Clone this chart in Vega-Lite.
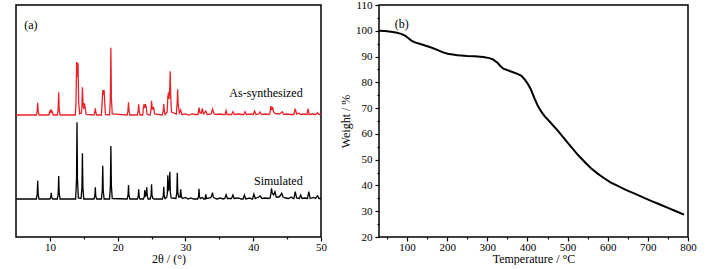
{
"$schema": "https://vega.github.io/schema/vega-lite/v6.json",
"padding": {"left": 12, "top": -2, "right": 0, "bottom": 0},
"background": "white",
"config": {
  "font": "Liberation Serif",
  "view": {"stroke": "black", "strokeWidth": 1.5},
  "text": {"font": "Liberation Serif"},
  "axis": {"domain": false, "grid": false, "tickColor": "black", "tickWidth": 1.2, "labelColor": "black", "titleColor": "black", "labelFont": "Liberation Serif", "titleFont": "Liberation Serif", "labelFontSize": 11, "titleFontSize": 12, "titleFontWeight": "normal", "labelFlush": false, "tickCount": 100, "format": "d"}
},
"datasets": {
  "xrd": [
    {"s":"S","x":5.0,"y":38},
    {"s":"S","x":8.0,"y":38},{"s":"S","x":8.13,"y":42.6},{"s":"S","x":8.2,"y":56.3},{"s":"S","x":8.27,"y":42.6},{"s":"S","x":8.4,"y":38},
    {"s":"S","x":10.0,"y":38},{"s":"S","x":10.13,"y":39.6},{"s":"S","x":10.2,"y":44.3},{"s":"S","x":10.27,"y":39.6},{"s":"S","x":10.4,"y":38},
    {"s":"S","x":11.1,"y":38},{"s":"S","x":11.23,"y":43.8},{"s":"S","x":11.3,"y":61},{"s":"S","x":11.37,"y":43.8},{"s":"S","x":11.5,"y":38},
    {"s":"S","x":13.8,"y":38},{"s":"S","x":13.93,"y":57.2},{"s":"S","x":14.0,"y":114.7},{"s":"S","x":14.07,"y":57.2},{"s":"S","x":14.2,"y":39},
    {"s":"S","x":14.6,"y":38.5},{"s":"S","x":14.73,"y":49.4},{"s":"S","x":14.8,"y":83.7},{"s":"S","x":14.87,"y":49.4},{"s":"S","x":15.0,"y":38},
    {"s":"S","x":16.5,"y":38},{"s":"S","x":16.63,"y":40.9},{"s":"S","x":16.7,"y":49.7},{"s":"S","x":16.77,"y":40.9},{"s":"S","x":16.9,"y":38},
    {"s":"S","x":17.6,"y":38},{"s":"S","x":17.73,"y":46.3},{"s":"S","x":17.8,"y":71.3},{"s":"S","x":17.87,"y":46.3},{"s":"S","x":18.0,"y":38},
    {"s":"S","x":18.8,"y":38},{"s":"S","x":18.93,"y":51.3},{"s":"S","x":19.0,"y":91},{"s":"S","x":19.07,"y":51.3},{"s":"S","x":19.2,"y":38.5},
    {"s":"S","x":21.4,"y":38},{"s":"S","x":21.53,"y":41.5},{"s":"S","x":21.6,"y":52},{"s":"S","x":21.67,"y":41.5},{"s":"S","x":21.8,"y":38},
    {"s":"S","x":22.9,"y":38},{"s":"S","x":23.03,"y":40.4},{"s":"S","x":23.1,"y":47.7},{"s":"S","x":23.17,"y":40.4},{"s":"S","x":23.3,"y":38},
    {"s":"S","x":23.8,"y":38},{"s":"S","x":23.93,"y":40.3},{"s":"S","x":24.0,"y":47},{"s":"S","x":24.1,"y":41},{"s":"S","x":24.2,"y":42},{"s":"S","x":24.3,"y":49.7},{"s":"S","x":24.37,"y":41},{"s":"S","x":24.5,"y":38},
    {"s":"S","x":24.8,"y":38},{"s":"S","x":24.93,"y":41.7},{"s":"S","x":25.0,"y":52.7},{"s":"S","x":25.07,"y":41.7},{"s":"S","x":25.2,"y":38.5},{"s":"S","x":25.4,"y":38},
    {"s":"S","x":26.6,"y":38},{"s":"S","x":26.73,"y":41},{"s":"S","x":26.8,"y":50.3},{"s":"S","x":26.87,"y":41},{"s":"S","x":27.0,"y":38.5},
    {"s":"S","x":27.25,"y":40},{"s":"S","x":27.33,"y":44},{"s":"S","x":27.4,"y":61.7},{"s":"S","x":27.5,"y":47},{"s":"S","x":27.6,"y":48},{"s":"S","x":27.7,"y":65.3},{"s":"S","x":27.77,"y":45},{"s":"S","x":27.9,"y":39},
    {"s":"S","x":28.6,"y":38.5},{"s":"S","x":28.73,"y":44.6},{"s":"S","x":28.8,"y":64.3},{"s":"S","x":28.87,"y":44.6},{"s":"S","x":29.0,"y":40},
    {"s":"S","x":29.2,"y":40},{"s":"S","x":29.3,"y":47.7},{"s":"S","x":29.4,"y":40},{"s":"S","x":29.6,"y":38.5},
    {"s":"S","x":30.0,"y":39.5},{"s":"S","x":30.4,"y":38},{"s":"S","x":30.8,"y":39},{"s":"S","x":31.2,"y":38},
    {"s":"S","x":31.8,"y":38},{"s":"S","x":31.93,"y":40.5},{"s":"S","x":32.0,"y":48.3},{"s":"S","x":32.07,"y":40.5},{"s":"S","x":32.2,"y":38.5},
    {"s":"S","x":32.5,"y":39.5},{"s":"S","x":32.7,"y":38},{"s":"S","x":32.9,"y":38},{"s":"S","x":33.0,"y":42.7},{"s":"S","x":33.1,"y":38.5},
    {"s":"S","x":33.6,"y":39},{"s":"S","x":33.8,"y":40},{"s":"S","x":34.0,"y":44.3},{"s":"S","x":34.1,"y":40},{"s":"S","x":34.3,"y":39},{"s":"S","x":34.6,"y":38},
    {"s":"S","x":35.2,"y":39},{"s":"S","x":35.5,"y":38},{"s":"S","x":35.8,"y":38.5},{"s":"S","x":36.0,"y":42.3},{"s":"S","x":36.2,"y":38.5},
    {"s":"S","x":36.8,"y":38.5},{"s":"S","x":37.0,"y":42},{"s":"S","x":37.2,"y":38.5},{"s":"S","x":37.8,"y":39},{"s":"S","x":38.2,"y":38},
    {"s":"S","x":38.5,"y":38},{"s":"S","x":38.7,"y":42},{"s":"S","x":38.9,"y":38},{"s":"S","x":39.5,"y":39},{"s":"S","x":39.8,"y":38},
    {"s":"S","x":39.9,"y":38},{"s":"S","x":40.1,"y":43},{"s":"S","x":40.3,"y":38.5},{"s":"S","x":40.8,"y":40},{"s":"S","x":41.0,"y":41},{"s":"S","x":41.3,"y":38.5},
    {"s":"S","x":41.8,"y":39},{"s":"S","x":42.2,"y":38.5},{"s":"S","x":42.5,"y":39},{"s":"S","x":42.6,"y":43},{"s":"S","x":42.7,"y":48.7},{"s":"S","x":42.8,"y":44},{"s":"S","x":43.0,"y":42},{"s":"S","x":43.2,"y":45.3},{"s":"S","x":43.4,"y":40},
    {"s":"S","x":43.8,"y":40},{"s":"S","x":44.0,"y":41.5},{"s":"S","x":44.2,"y":43.7},{"s":"S","x":44.4,"y":40},{"s":"S","x":44.8,"y":39},
    {"s":"S","x":45.2,"y":38.5},{"s":"S","x":45.6,"y":40},{"s":"S","x":45.9,"y":38.5},{"s":"S","x":46.0,"y":38.5},{"s":"S","x":46.2,"y":45.3},{"s":"S","x":46.4,"y":39},
    {"s":"S","x":46.8,"y":38.5},{"s":"S","x":47.0,"y":42},{"s":"S","x":47.2,"y":38.5},{"s":"S","x":47.6,"y":39},{"s":"S","x":48.0,"y":38.5},{"s":"S","x":48.2,"y":45.3},{"s":"S","x":48.4,"y":38.5},
    {"s":"S","x":48.9,"y":39.5},{"s":"S","x":49.2,"y":38.5},{"s":"S","x":49.5,"y":41.3},{"s":"S","x":49.7,"y":38.5},{"s":"S","x":50.0,"y":38.5},

    {"s":"A","x":5.0,"y":122},
    {"s":"A","x":8.0,"y":122},{"s":"A","x":8.12,"y":125.5},{"s":"A","x":8.2,"y":134.3},{"s":"A","x":8.28,"y":125.5},{"s":"A","x":8.4,"y":122},
    {"s":"A","x":9.85,"y":122},{"s":"A","x":9.95,"y":125},{"s":"A","x":10.05,"y":126.5},{"s":"A","x":10.15,"y":124.5},{"s":"A","x":10.25,"y":126.5},{"s":"A","x":10.35,"y":125},{"s":"A","x":10.5,"y":122},
    {"s":"A","x":11.1,"y":122},{"s":"A","x":11.22,"y":127.5},{"s":"A","x":11.3,"y":144.7},{"s":"A","x":11.38,"y":127.5},{"s":"A","x":11.5,"y":122},
    {"s":"A","x":13.75,"y":122},{"s":"A","x":13.85,"y":134},{"s":"A","x":13.95,"y":175},{"s":"A","x":14.05,"y":160},{"s":"A","x":14.15,"y":174},{"s":"A","x":14.25,"y":134},{"s":"A","x":14.4,"y":123},
    {"s":"A","x":14.65,"y":124},{"s":"A","x":14.73,"y":131},{"s":"A","x":14.8,"y":149.7},{"s":"A","x":14.88,"y":135},{"s":"A","x":14.98,"y":128},{"s":"A","x":15.1,"y":133.7},{"s":"A","x":15.2,"y":130},{"s":"A","x":15.35,"y":122.5},
    {"s":"A","x":16.5,"y":122},{"s":"A","x":16.62,"y":124.5},{"s":"A","x":16.7,"y":128.7},{"s":"A","x":16.78,"y":124.5},{"s":"A","x":16.9,"y":122},
    {"s":"A","x":17.6,"y":122},{"s":"A","x":17.7,"y":133},{"s":"A","x":17.8,"y":147},{"s":"A","x":17.9,"y":142},{"s":"A","x":18.0,"y":147},{"s":"A","x":18.1,"y":133},{"s":"A","x":18.2,"y":122.5},
    {"s":"A","x":18.8,"y":122},{"s":"A","x":18.92,"y":138},{"s":"A","x":19.0,"y":189.3},{"s":"A","x":19.08,"y":138},{"s":"A","x":19.2,"y":123},
    {"s":"A","x":21.4,"y":122},{"s":"A","x":21.52,"y":126},{"s":"A","x":21.6,"y":134.7},{"s":"A","x":21.68,"y":126},{"s":"A","x":21.8,"y":122},
    {"s":"A","x":22.9,"y":122},{"s":"A","x":23.02,"y":125.5},{"s":"A","x":23.1,"y":132.7},{"s":"A","x":23.18,"y":125.5},{"s":"A","x":23.3,"y":122},
    {"s":"A","x":23.7,"y":122},{"s":"A","x":23.8,"y":130},{"s":"A","x":23.9,"y":132.7},{"s":"A","x":24.0,"y":129},{"s":"A","x":24.1,"y":133},{"s":"A","x":24.2,"y":130},{"s":"A","x":24.35,"y":122.5},
    {"s":"A","x":24.8,"y":122},{"s":"A","x":24.92,"y":127},{"s":"A","x":25.0,"y":136.3},{"s":"A","x":25.1,"y":128},{"s":"A","x":25.2,"y":128},{"s":"A","x":25.3,"y":130},{"s":"A","x":25.45,"y":123},
    {"s":"A","x":26.6,"y":122},{"s":"A","x":26.72,"y":126},{"s":"A","x":26.8,"y":133},{"s":"A","x":26.88,"y":126},{"s":"A","x":27.0,"y":122.5},
    {"s":"A","x":27.3,"y":125},{"s":"A","x":27.4,"y":140},{"s":"A","x":27.5,"y":144.7},{"s":"A","x":27.6,"y":138},{"s":"A","x":27.7,"y":152},{"s":"A","x":27.75,"y":165.7},{"s":"A","x":27.83,"y":140},{"s":"A","x":27.95,"y":125},
    {"s":"A","x":28.65,"y":123},{"s":"A","x":28.77,"y":133},{"s":"A","x":28.85,"y":147.7},{"s":"A","x":28.93,"y":133},{"s":"A","x":29.1,"y":124},{"s":"A","x":29.3,"y":127},{"s":"A","x":29.45,"y":122.5},
    {"s":"A","x":30.0,"y":123},{"s":"A","x":30.5,"y":122},{"s":"A","x":31.0,"y":123},{"s":"A","x":31.5,"y":122.5},
    {"s":"A","x":31.85,"y":122.5},{"s":"A","x":32.0,"y":129.3},{"s":"A","x":32.15,"y":124},{"s":"A","x":32.35,"y":124},{"s":"A","x":32.5,"y":128.7},{"s":"A","x":32.65,"y":123},
    {"s":"A","x":33.0,"y":126},{"s":"A","x":33.2,"y":122.5},{"s":"A","x":33.8,"y":123},{"s":"A","x":34.0,"y":128},{"s":"A","x":34.2,"y":123.5},{"s":"A","x":34.5,"y":122.5},
    {"s":"A","x":35.0,"y":123},{"s":"A","x":35.5,"y":122.5},{"s":"A","x":35.85,"y":122.5},{"s":"A","x":36.0,"y":126.3},{"s":"A","x":36.15,"y":122.5},
    {"s":"A","x":36.8,"y":122.5},{"s":"A","x":37.0,"y":125.3},{"s":"A","x":37.2,"y":122.5},{"s":"A","x":37.8,"y":123},{"s":"A","x":38.3,"y":122.5},
    {"s":"A","x":38.6,"y":122.5},{"s":"A","x":38.8,"y":125.3},{"s":"A","x":39.0,"y":122.5},{"s":"A","x":39.6,"y":123},{"s":"A","x":40.0,"y":122.5},{"s":"A","x":40.2,"y":126},{"s":"A","x":40.4,"y":122.5},
    {"s":"A","x":40.8,"y":123},{"s":"A","x":41.0,"y":125},{"s":"A","x":41.2,"y":122.5},{"s":"A","x":41.8,"y":123},{"s":"A","x":42.3,"y":122.5},
    {"s":"A","x":42.45,"y":123},{"s":"A","x":42.6,"y":131},{"s":"A","x":42.72,"y":127},{"s":"A","x":42.85,"y":130},{"s":"A","x":43.0,"y":125},{"s":"A","x":43.2,"y":123.5},
    {"s":"A","x":43.7,"y":123},{"s":"A","x":44.0,"y":123.5},{"s":"A","x":44.3,"y":125.3},{"s":"A","x":44.5,"y":122.5},
    {"s":"A","x":45.0,"y":123},{"s":"A","x":45.5,"y":122.5},{"s":"A","x":46.0,"y":122.5},{"s":"A","x":46.2,"y":128.3},{"s":"A","x":46.4,"y":123},{"s":"A","x":46.7,"y":124},{"s":"A","x":47.0,"y":122.5},
    {"s":"A","x":47.5,"y":123},{"s":"A","x":47.95,"y":122.5},{"s":"A","x":48.1,"y":128.3},{"s":"A","x":48.25,"y":122.5},
    {"s":"A","x":48.8,"y":123},{"s":"A","x":49.2,"y":122.5},{"s":"A","x":49.5,"y":124.3},{"s":"A","x":49.7,"y":122.5},{"s":"A","x":50.0,"y":122.5}
  ],
  "tga": [
    {"x":30,"y":100},{"x":45,"y":99.9},{"x":60,"y":99.6},{"x":75,"y":99.2},{"x":85,"y":98.8},{"x":95,"y":98.1},{"x":102,"y":97.3},
    {"x":110,"y":96.3},{"x":118,"y":95.6},{"x":135,"y":94.8},{"x":160,"y":93.5},{"x":175,"y":92.6},{"x":188,"y":91.7},{"x":201,"y":91.1},
    {"x":226,"y":90.5},{"x":250,"y":90.2},{"x":268,"y":90.1},{"x":290,"y":89.8},{"x":305,"y":89.4},{"x":314,"y":88.9},{"x":326,"y":87.5},
    {"x":333,"y":86.2},{"x":340,"y":85.3},{"x":359,"y":84.2},{"x":375,"y":83.3},{"x":385,"y":82.5},{"x":393,"y":81.1},{"x":400,"y":79.6},
    {"x":408,"y":77.4},{"x":418,"y":73.6},{"x":426,"y":70.8},{"x":434,"y":68.7},{"x":443,"y":66.8},{"x":451,"y":65.5},{"x":476,"y":61.2},
    {"x":501,"y":56.4},{"x":526,"y":51.8},{"x":545,"y":48.7},{"x":559,"y":46.6},{"x":575,"y":44.6},{"x":592,"y":42.7},{"x":608,"y":41.1},
    {"x":625,"y":39.8},{"x":645,"y":38.3},{"x":667,"y":36.8},{"x":688,"y":35.4},{"x":708,"y":34.0},{"x":730,"y":32.6},{"x":750,"y":31.3},
    {"x":770,"y":30.0},{"x":790,"y":28.7}
  ],
  "labels": [
    {"p":"a","k":"c","x":7.2,"y":212,"txt":"(a)"},
    {"p":"a","k":"r","x":47.3,"y":144,"txt":"As-synthesized"},
    {"p":"a","k":"r","x":47.3,"y":56,"txt":"Simulated"},
    {"p":"b","k":"c","x":87,"y":102.6,"txt":"(b)"}
  ]
},
"spacing": 58,
"bounds": "flush",
"hconcat": [
  {
    "width": 305, "height": 232,
    "layer": [
      {
        "data": {"name": "xrd"},
        "mark": {"type": "line", "strokeWidth": 1.3, "strokeJoin": "miter"},
        "encoding": {
          "x": {"field": "x", "type": "quantitative", "scale": {"domain": [5, 50], "nice": false, "zero": false},
                "axis": {"title": "2θ / (°)", "values": [10,15,20,25,30,35,40,45,50], "tickCount": 100, "format": "d",
                         "tickSize": {"condition": {"test": "datum.value % 10 === 0", "value": 4}, "value": 2},
                         "labelExpr": "datum.value % 10 === 0 ? datum.label : ''",
                         "labelPadding": 0, "titlePadding": 1}},
          "y": {"field": "y", "type": "quantitative", "scale": {"domain": [0, 232], "nice": false}, "axis": null},
          "color": {"field": "s", "type": "nominal", "scale": {"domain": ["A", "S"], "range": ["#e8242a", "#000000"]}, "legend": null}
        }
      },
      {
        "data": {"name": "labels"},
        "transform": [{"filter": "datum.p === 'a' && datum.k === 'c'"}],
        "mark": {"type": "text", "fontSize": 12, "font": "Liberation Serif", "align": "center", "baseline": "middle", "color": "black"},
        "encoding": {
          "x": {"field": "x", "type": "quantitative"},
          "y": {"field": "y", "type": "quantitative"},
          "text": {"field": "txt"}
        }
      },
      {
        "data": {"name": "labels"},
        "transform": [{"filter": "datum.p === 'a' && datum.k === 'r'"}],
        "mark": {"type": "text", "fontSize": 12, "font": "Liberation Serif", "align": "right", "baseline": "middle", "color": "black"},
        "encoding": {
          "x": {"field": "x", "type": "quantitative"},
          "y": {"field": "y", "type": "quantitative"},
          "text": {"field": "txt"}
        }
      }
    ]
  },
  {
    "width": 309, "height": 232,
    "layer": [
      {
        "data": {"name": "tga"},
        "mark": {"type": "line", "strokeWidth": 2, "color": "black"},
        "encoding": {
          "x": {"field": "x", "type": "quantitative", "scale": {"domain": [30, 800], "nice": false, "zero": false},
                "axis": {"title": "Temperature / °C", "values": [50,100,150,200,250,300,350,400,450,500,550,600,650,700,750,800], "tickCount": 100, "format": "d",
                         "tickSize": {"condition": {"test": "datum.value % 100 === 0", "value": 4}, "value": 2},
                         "labelExpr": "datum.value % 100 === 0 ? datum.label : ''",
                         "labelPadding": 0, "titlePadding": 1}},
          "y": {"field": "y", "type": "quantitative", "scale": {"domain": [20, 110], "nice": false, "zero": false},
                "axis": {"title": "Weight / %", "values": [20,25,30,35,40,45,50,55,60,65,70,75,80,85,90,95,100,105,110], "tickCount": 100, "format": "d",
                         "tickSize": {"condition": {"test": "datum.value % 10 === 0", "value": 4}, "value": 2},
                         "labelExpr": "datum.value % 10 === 0 ? datum.label : ''",
                         "labelPadding": 3, "titlePadding": 3}}
        }
      },
      {
        "data": {"name": "labels"},
        "transform": [{"filter": "datum.p === 'b'"}],
        "mark": {"type": "text", "fontSize": 12, "font": "Liberation Serif", "align": "center", "baseline": "middle", "color": "black"},
        "encoding": {
          "x": {"field": "x", "type": "quantitative"},
          "y": {"field": "y", "type": "quantitative"},
          "text": {"field": "txt"}
        }
      }
    ]
  }
]
}
